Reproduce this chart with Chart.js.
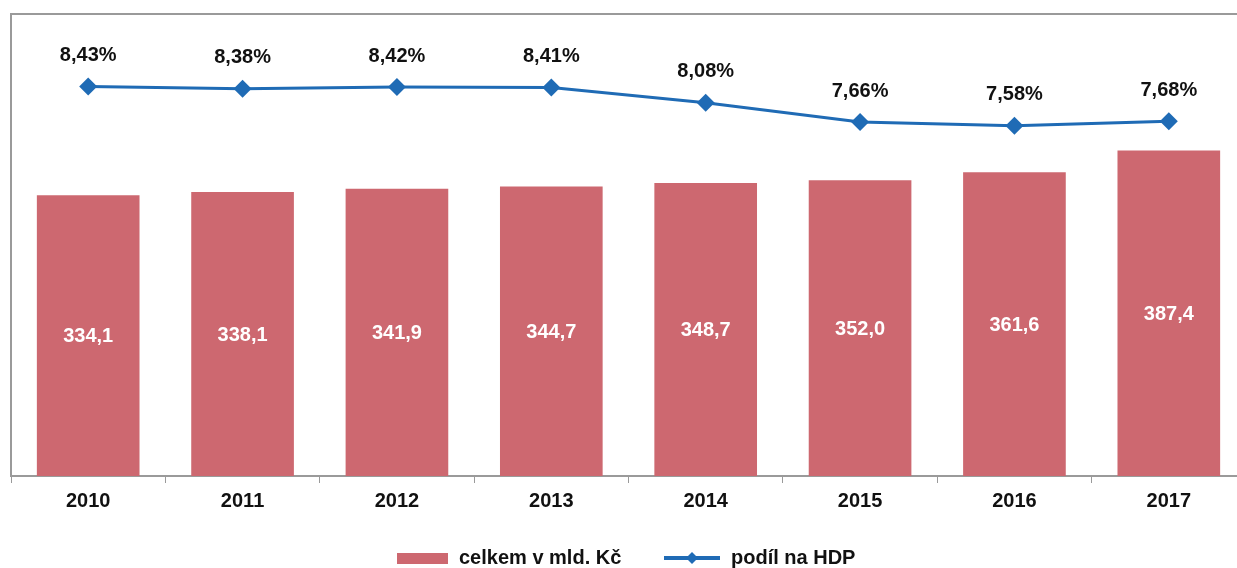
<!DOCTYPE html>
<html><head><meta charset="utf-8">
<script src="https://cdn.jsdelivr.net/npm/chart.js@4/dist/chart.umd.min.js"></script>
<style>html,body{margin:0;padding:0;background:#fff;overflow:hidden;width:1237px;height:568px}canvas{display:block}</style>
</head><body>
<canvas id="c" width="1255" height="568"></canvas>
<script>
const categories = ['2010','2011','2012','2013','2014','2015','2016','2017'];
const totalValues = [334.1, 338.1, 341.9, 344.7, 348.7, 352.0, 361.6, 387.4];
const shareValues = [8.43, 8.38, 8.42, 8.41, 8.08, 7.66, 7.58, 7.68];
const seriesNames = ['celkem v mld. Kč', 'podíl na HDP'];

const BAR = '#CD6870', LINE = '#1F6BB5', FONT = '"Liberation Sans", Arial, sans-serif';
const fmt = (v, d) => v.toFixed(d).replace('.', ',');

const labelsPlugin = {
  id: 'labels',
  afterDatasetsDraw(chart) {
    const ctx = chart.ctx;
    ctx.save();
    ctx.font = 'bold 20px ' + FONT;
    ctx.textAlign = 'center';
    ctx.textBaseline = 'middle';
    const bm = chart.getDatasetMeta(0);
    ctx.fillStyle = '#ffffff';
    bm.data.forEach((el, i) => {
      ctx.fillText(fmt(totalValues[i], 1), el.x, (el.y + el.base) / 2 + 1);
    });
    const lm = chart.getDatasetMeta(1);
    ctx.fillStyle = '#111111';
    lm.data.forEach((el, i) => {
      ctx.fillText(fmt(shareValues[i], 2) + '%', el.x, el.y - 31);
    });
    ctx.restore();
  }
};

const framePlugin = {
  id: 'frame',
  afterDraw(chart) {
    const {ctx, chartArea: a} = chart;
    ctx.save();
    ctx.strokeStyle = '#9a9a9a';
    ctx.lineWidth = 2;
    ctx.beginPath();
    ctx.moveTo(a.left, a.bottom);
    ctx.lineTo(a.left, a.top);
    ctx.lineTo(a.right, a.top);
    ctx.lineTo(a.right, a.bottom);
    ctx.stroke();
    // legend
    const y = 558;
    ctx.font = 'bold 20px ' + FONT;
    ctx.textBaseline = 'middle';
    ctx.textAlign = 'left';
    ctx.fillStyle = BAR;
    ctx.fillRect(397, y - 5, 51, 11);
    ctx.fillStyle = '#111111';
    ctx.fillText(seriesNames[0], 459, y);
    ctx.strokeStyle = LINE;
    ctx.lineWidth = 4;
    ctx.beginPath();
    ctx.moveTo(664, y);
    ctx.lineTo(720, y);
    ctx.stroke();
    ctx.fillStyle = LINE;
    ctx.beginPath();
    ctx.moveTo(692, y - 6); ctx.lineTo(698, y); ctx.lineTo(692, y + 6); ctx.lineTo(686, y);
    ctx.closePath(); ctx.fill();
    ctx.fillStyle = '#111111';
    ctx.fillText(seriesNames[1], 731, y);
    ctx.restore();
  }
};

new Chart(document.getElementById('c'), {
  data: {
    labels: categories,
    datasets: [
      { type: 'bar', label: seriesNames[0], data: totalValues, backgroundColor: BAR,
        yAxisID: 'y', categoryPercentage: 1, barPercentage: 0.665, order: 2 },
      { type: 'line', label: seriesNames[1], data: shareValues, borderColor: LINE, backgroundColor: LINE,
        borderWidth: 3, pointStyle: 'rectRot', pointRadius: 9, pointHoverRadius: 9,
        pointBackgroundColor: LINE, pointBorderWidth: 0, tension: 0, yAxisID: 'y2', order: 1 }
    ]
  },
  options: {
    responsive: false,
    animation: false,
    events: [],
    layout: { padding: { left: 11, top: 14, right: 4, bottom: 0 } },
    plugins: { legend: { display: false }, tooltip: { enabled: false } },
    scales: {
      x: {
        offset: true,
        grid: { offset: true, drawOnChartArea: false, drawTicks: true, tickLength: 7, color: '#9a9a9a', lineWidth: 1 },
        border: { display: true, color: '#9a9a9a', width: 2 },
        ticks: { color: '#111111', font: { family: FONT, size: 20, weight: 'bold' }, padding: 6 },
        afterFit(s) { s.height = 92; }
      },
      y: { display: false, min: 0, max: 550 },
      y2: { display: false, min: 0, max: 10, position: 'right' }
    }
  },
  plugins: [labelsPlugin, framePlugin]
});
</script>
</body></html>
